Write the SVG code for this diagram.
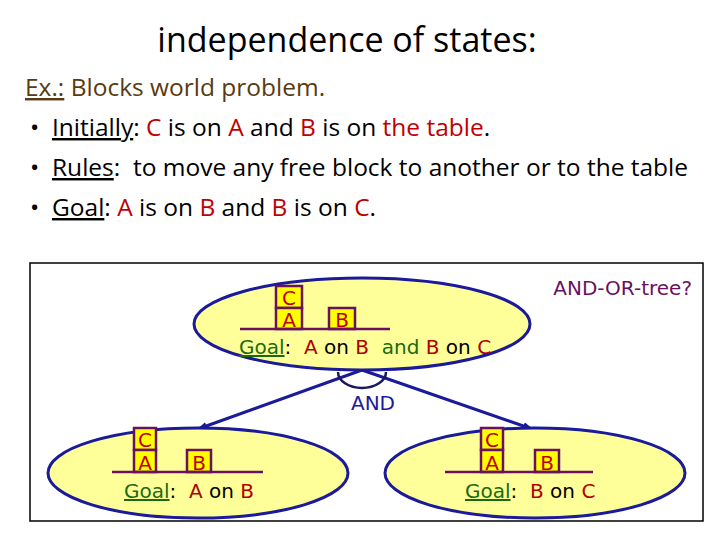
<svg xmlns="http://www.w3.org/2000/svg" width="720" height="540" viewBox="0 0 720 540">
<style>
text{white-space:pre}
.t{font-family:"Open Sans","Liberation Sans",sans-serif;font-size:24.5px;fill:#000}
.r{fill:#c00000}
.c{font-family:"DejaVu Sans",sans-serif;font-size:20px}
.e{fill:#ffff99;stroke:#1a1a9a;stroke-width:3}
.bx{fill:#ffff00;stroke:#6a1060;stroke-width:2.5}
.ln{stroke:#6a1060;stroke-width:2.5}
.bl{font-family:"DejaVu Sans",sans-serif;font-size:20px;fill:#c00000}
.g{fill:#1a6a10;text-decoration:underline}
.rd{fill:#b00000}
.k{fill:#000}
</style>
<defs><marker id="ah" markerWidth="10" markerHeight="8" refX="9" refY="4" orient="auto" markerUnits="userSpaceOnUse"><path d="M0,0 L10,4 L0,8 z" fill="#1a1a9a"/></marker></defs>
<text x="347" y="52" text-anchor="middle" font-family="Open Sans,Liberation Sans,sans-serif" font-size="34">independence of states:</text>
<text class="t" x="25" y="96"><tspan fill="#5a3a10" text-decoration="underline">Ex.:</tspan><tspan fill="#5a3a10"> Blocks world problem.</tspan></text>
<text class="t" x="30" y="136">•</text><text class="t" x="52" y="136"><tspan text-decoration="underline">Initially</tspan>: <tspan class="r">C</tspan> is on <tspan class="r">A</tspan> and <tspan class="r">B</tspan> is on <tspan class="r">the table</tspan>.</text>
<text class="t" x="30" y="176">•</text><text class="t" x="52" y="176"><tspan text-decoration="underline">Rules</tspan>:  to move any free block to another or to the table</text>
<text class="t" x="30" y="216">•</text><text class="t" x="52" y="216"><tspan text-decoration="underline">Goal</tspan>: <tspan class="r">A</tspan> is on <tspan class="r">B</tspan> and <tspan class="r">B</tspan> is on <tspan class="r">C</tspan>.</text>
<rect x="30" y="263" width="673" height="258" fill="none" stroke="#000" stroke-width="1.5"/>
<text x="692" y="295" text-anchor="end" class="c" fill="#6a1060">AND-OR-tree?</text>
<g id="connectors" stroke="#1a1a9a" stroke-width="3" fill="none">
<line x1="362" y1="370" x2="198" y2="429" marker-end="url(#ah)"/>
<line x1="362" y1="370" x2="532" y2="429" marker-end="url(#ah)"/>
<path d="M338,372 A24,16 0 0 0 386,372" stroke="#1a1a5a" stroke-width="2.5"/>
<text x="373" y="410" text-anchor="middle" class="c" fill="#1a1a9a" stroke="none">AND</text>
</g>
<g id="root">
<ellipse class="e" cx="362" cy="324" rx="168" ry="46"/>
<rect class="bx" x="276" y="286" width="26" height="22"/><rect class="bx" x="276" y="308" width="26" height="21"/><rect class="bx" x="329" y="308" width="26" height="21"/>
<line class="ln" x1="240" y1="329" x2="390" y2="329"/>
<text class="bl" x="289" y="305" text-anchor="middle">C</text><text class="bl" x="289" y="327" text-anchor="middle">A</text><text class="bl" x="342" y="327" text-anchor="middle">B</text>
<text class="c" x="239" y="354"><tspan class="g">Goal</tspan><tspan class="k">:  </tspan><tspan class="rd">A</tspan><tspan class="k"> on </tspan><tspan class="rd">B</tspan><tspan fill="#1a6a10">  and </tspan><tspan class="rd">B</tspan><tspan class="k"> on </tspan><tspan class="rd">C</tspan></text>
</g>
<g id="left">
<ellipse class="e" cx="198" cy="473" rx="150" ry="45"/>
<rect class="bx" x="134" y="428" width="22" height="22"/><rect class="bx" x="134" y="450" width="22" height="22"/><rect class="bx" x="187" y="450" width="24" height="22"/>
<line class="ln" x1="112" y1="472" x2="263" y2="472"/>
<text class="bl" x="145" y="447" text-anchor="middle">C</text><text class="bl" x="145" y="470" text-anchor="middle">A</text><text class="bl" x="199" y="470" text-anchor="middle">B</text>
<text class="c" x="124" y="498"><tspan class="g">Goal</tspan><tspan class="k">:  </tspan><tspan class="rd">A</tspan><tspan class="k"> on </tspan><tspan class="rd">B</tspan></text>
</g>
<g id="right">
<ellipse class="e" cx="535" cy="473" rx="150" ry="45"/>
<rect class="bx" x="481" y="428" width="22" height="22"/><rect class="bx" x="481" y="450" width="22" height="22"/><rect class="bx" x="535" y="450" width="24" height="22"/>
<line class="ln" x1="445" y1="472" x2="593" y2="472"/>
<text class="bl" x="492" y="447" text-anchor="middle">C</text><text class="bl" x="492" y="470" text-anchor="middle">A</text><text class="bl" x="547" y="470" text-anchor="middle">B</text>
<text class="c" x="465" y="498"><tspan class="g">Goal</tspan><tspan class="k">:  </tspan><tspan class="rd">B</tspan><tspan class="k"> on </tspan><tspan class="rd">C</tspan></text>
</g>
</svg>
